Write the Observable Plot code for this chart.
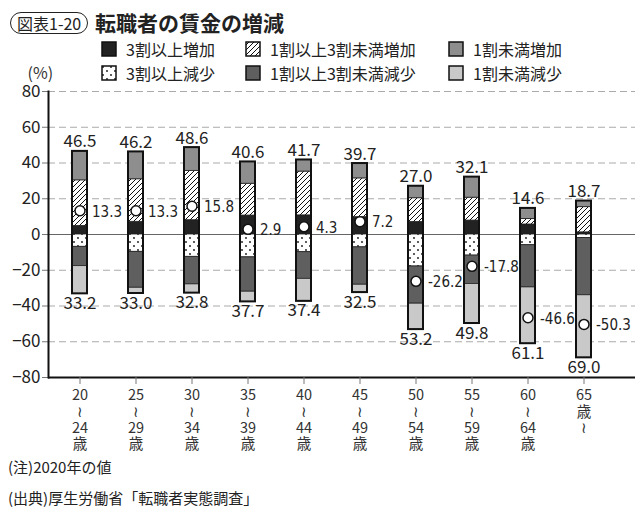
<!DOCTYPE html>
<html><head><meta charset="utf-8">
<script src="https://cdn.jsdelivr.net/npm/d3@7"></script>
<script src="https://cdn.jsdelivr.net/npm/@observablehq/plot@0.6"></script>
<style>
body{margin:0;background:#fff;font-family:"Noto Sans CJK JP",sans-serif;color:#222;}
#wrap{position:relative;width:640px;height:523px;overflow:hidden;background:#fff;}
#chart{position:absolute;left:0;top:0;}
.pill{position:absolute;left:10px;top:12px;height:20px;line-height:20px;padding:0 6px;border:1.5px solid #222;border-radius:12px;font-size:16px;}
.title{position:absolute;left:95px;top:7px;font-size:21px;font-weight:bold;line-height:30px;}
#legend{position:absolute;left:101px;top:37px;display:grid;grid-template-columns:144px 203px auto;grid-auto-rows:24px;font-size:16px;}
#legend .item{display:flex;align-items:center;white-space:nowrap;}
#legend svg{margin-right:9px;}
.note{position:absolute;left:8px;font-size:15px;line-height:20px;}
</style></head><body>
<div id="wrap">
 <div id="chart"></div>
 <div class="pill">図表1-20</div>
 <div class="title">転職者の賃金の増減</div>
 <div id="legend"></div>
 <div class="note" style="top:457px">(注)2020年の値</div>
 <div class="note" style="top:488px">(出典)厚生労働省「転職者実態調査」</div>
</div>
<script>
const ages = ["20-24","25-29","30-34","35-39","40-44","45-49","50-54","55-59","60-64","65-"];
const ageLabels = ["20\n≀\n24\n歳","25\n≀\n29\n歳","30\n≀\n34\n歳","35\n≀\n39\n歳","40\n≀\n44\n歳","45\n≀\n49\n歳","50\n≀\n54\n歳","55\n≀\n59\n歳","60\n≀\n64\n歳","65\n歳\n≀"];
const categories = ["3割以上増加","1割以上3割未満増加","1割未満増加","3割以上減少","1割以上3割未満減少","1割未満減少"];
const up30   = [4.8, 7.1, 8.0, 10.6, 10.7, 9.7, 7.0, 7.8, 5.6, 1.2];
const up10   = [25.5, 23.8, 27.6, 17.8, 24.5, 21.7, 13.3, 12.8, 3.1, 14.1];
const up0    = [16.2, 15.3, 13.0, 12.2, 6.5, 8.3, 6.7, 11.5, 5.9, 3.4];
const down30 = [6.9, 9.7, 12.5, 12.8, 9.9, 7.2, 17.9, 11.8, 6.0, 2.0];
const down10 = [10.8, 20.1, 15.4, 19.2, 14.9, 20.9, 20.8, 15.9, 23.6, 32.0];
const down0  = [15.5, 3.2, 4.9, 5.7, 12.6, 4.4, 14.5, 22.1, 31.5, 35.0];
const posTotal = [46.5, 46.2, 48.6, 40.6, 41.7, 39.7, 27.0, 32.1, 14.6, 18.7];
const negTotal = [33.2, 33.0, 32.8, 37.7, 37.4, 32.5, 53.2, 49.8, 61.1, 69.0];
const net = [13.3, 13.3, 15.8, 2.9, 4.3, 7.2, -26.2, -17.8, -46.6, -50.3];
const yTicks = [-80, -60, -40, -20, 0, 20, 40, 60, 80];

const fills = ["#222222", "url(#hatch)", "#8e8e8e", "url(#dots)", "#5f5f5f", "#c9c9c9"];
const series = [up30, up10, up0, down30, down10, down0];
const signs = [1, 1, 1, -1, -1, -1];
const rows = [];
categories.forEach((c, j) => ages.forEach((a, i) => rows.push({age: a, cat: c, value: signs[j] * series[j][i]})));
const totals = ages.map((a, i) => ({age: a, pos: posTotal[i], neg: -negTotal[i], net: net[i]}));

const fmtNet = v => (v < 0 ? "-" : "") + Math.abs(v).toFixed(1);

const defsMark = () => {
  const defs = d3.create("svg:defs");
  const h = defs.append("pattern").attr("id", "hatch").attr("patternUnits", "userSpaceOnUse").attr("width", 5).attr("height", 5);
  h.append("rect").attr("width", 5).attr("height", 5).attr("fill", "white");
  h.append("path").attr("d", "M-1,1 l2,-2 M0,5 l5,-5 M4,6 l2,-2").attr("stroke", "#111").attr("stroke-width", 1);
  const d = defs.append("pattern").attr("id", "dots").attr("patternUnits", "userSpaceOnUse").attr("width", 8).attr("height", 8);
  d.append("rect").attr("width", 8).attr("height", 8).attr("fill", "white");
  d.append("circle").attr("cx", 2).attr("cy", 2).attr("r", 0.9).attr("fill", "#111");
  d.append("circle").attr("cx", 6).attr("cy", 6).attr("r", 0.9).attr("fill", "#111");
  return defs.node();
};

const chart = Plot.plot({
  width: 640, height: 460,
  marginTop: 91, marginBottom: 83, marginLeft: 48, marginRight: 5,
  style: {fontFamily: "'Noto Sans CJK JP', sans-serif", fontSize: "17px", color: "#222", background: "white"},
  x: {domain: ages, range: [47, 615], paddingInner: 0.74, paddingOuter: 0.37, axis: null},
  y: {domain: [-80, 80], axis: null},
  color: {domain: categories, range: fills},
  marks: [
    defsMark,
    Plot.ruleY(yTicks.filter(t => t !== 0), {stroke: "#aaa", strokeDasharray: "7,4"}),
    Plot.ruleY([0], {stroke: "#666"}),
    Plot.barY(rows, Plot.stackY({x: "age", y: "value", fill: "cat", order: categories, stroke: "#222", strokeWidth: 0.8})),
    Plot.barY(totals, {x: "age", y1: "neg", y2: "pos", fill: "none", stroke: "#111", strokeWidth: 2}),
    Plot.dot(totals, {x: "age", y: "net", r: 5, fill: "white", stroke: "#111", strokeWidth: 1.5}),
    Plot.text(totals, {x: "age", y: "net", text: d => fmtNet(d.net), dx: 12, dy: 1, textAnchor: "start", fontSize: 15, fontFamily: "'Liberation Sans Narrow', 'DejaVu Sans Condensed', sans-serif", fill: "#222"}),
    Plot.text(totals, {x: "age", y: "pos", text: d => d.pos.toFixed(1), lineAnchor: "bottom", dy: -4, fontSize: 17}),
    Plot.text(totals, {x: "age", y: "neg", text: d => (-d.neg).toFixed(1), lineAnchor: "top", dy: 3, fontSize: 17}),
    Plot.axisY({ticks: yTicks, tickSize: 6, tickPadding: 2, fontSize: 17, label: null, stroke: "#777", tickFormat: d => d < 0 ? "−" + (-d) : String(d)}),
    Plot.frame({anchor: "left", stroke: "#111", strokeWidth: 2}),
    Plot.ruleY([-80], {stroke: "#111", strokeWidth: 2}),
    Plot.axisX({tickSize: 7, tickFormat: () => "", label: null, stroke: "#777"}),
    Plot.text(ages, {x: d => d, text: (d, i) => ageLabels[i], frameAnchor: "bottom", lineAnchor: "top", dy: 11, lineHeight: 1.13, fontSize: 14.5, fill: "#333"}),
    Plot.text(["(%)"], {frameAnchor: "top-left", text: d => d, dx: -21, dy: -18, lineAnchor: "middle", fontSize: 16, fill: "#333"})
  ]
});
document.getElementById("chart").appendChild(chart);

const legend = d3.select("#legend");
categories.forEach((c, j) => {
  const item = legend.append("div").attr("class", "item");
  const s = item.append("svg").attr("width", 16).attr("height", 16);
  s.append("rect").attr("x", 1).attr("y", 1).attr("width", 14).attr("height", 14).attr("fill", fills[j]).attr("stroke", "#111").attr("stroke-width", 1.5);
  item.append("span").text(c);
});
</script>
</body></html>
